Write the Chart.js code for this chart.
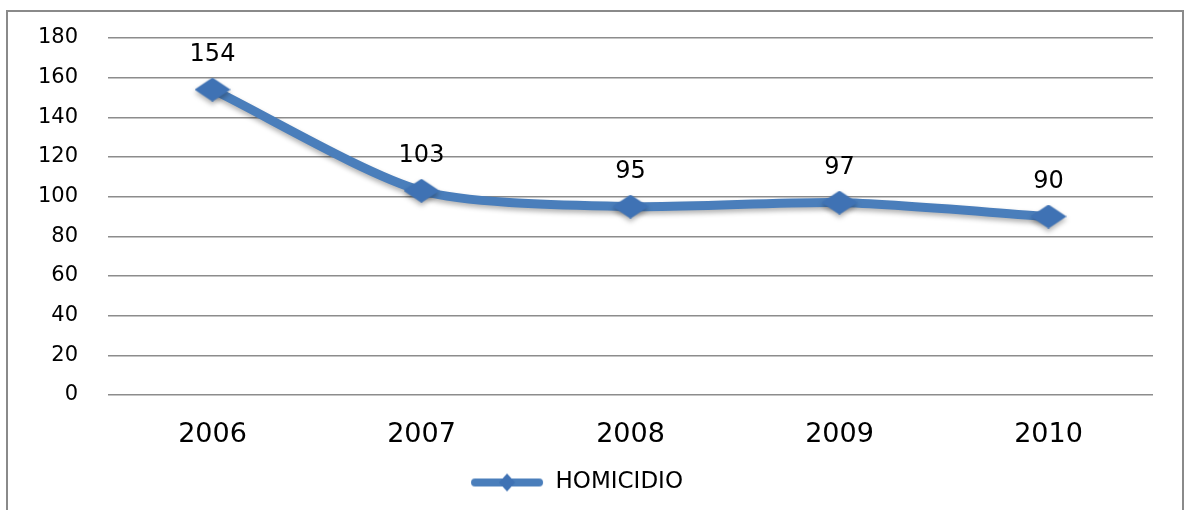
<!DOCTYPE html>
<html lang="es">
<head>
<meta charset="UTF-8">
<title>Homicidio</title>
<script src="https://cdn.jsdelivr.net/npm/chart.js"></script>
<style>
    html, body { margin: 0; padding: 0; background: #fff; }
    .wrap { position: relative; width: 1187px; height: 510px; overflow: hidden; }
    .frame { position: absolute; left: 6px; top: 10px; width: 1178px; height: 560px; border: 2px solid #8a8a8a; box-sizing: border-box; }
    canvas { position: absolute; left: 0; top: 0; }
</style>
</head>
<body>
<div class="wrap">
    <div class="frame"></div>
    <canvas id="homChart" width="1187" height="510"></canvas>
</div>
<script>
    // datos
    const years = ['2006', '2007', '2008', '2009', '2010'];
    const homicidios = [154, 103, 95, 97, 90];
    const yTicks = [0, 20, 40, 60, 80, 100, 120, 140, 160, 180];

    const blue = '#4a7ebb';
    const markerBlue = '#3f72b4';

    // rombo achatado como en Excel
    const diamond = document.createElement('canvas');
    diamond.width = 36; diamond.height = 24;
    (function () {
        const c = diamond.getContext('2d');
        c.fillStyle = markerBlue;
        c.beginPath(); c.moveTo(18, 0); c.lineTo(36, 12); c.lineTo(18, 24); c.lineTo(0, 12); c.closePath(); c.fill();
    })();

    // icono de leyenda: línea gruesa con rombo
    const legendIcon = document.createElement('canvas');
    legendIcon.width = 74; legendIcon.height = 22;
    (function () {
        const c = legendIcon.getContext('2d');
        c.strokeStyle = blue; c.lineWidth = 8; c.lineCap = 'round';
        c.beginPath(); c.moveTo(5, 11); c.lineTo(69, 11); c.stroke();
        c.fillStyle = markerBlue;
        c.beginPath(); c.moveTo(37, 2); c.lineTo(45, 11); c.lineTo(37, 20); c.lineTo(29, 11); c.closePath(); c.fill();
    })();

    const shadowPlugin = {
        id: 'shadow',
        beforeDatasetsDraw(chart) {
            const ctx = chart.ctx;
            ctx.save();
            ctx.shadowColor = 'rgba(0,0,0,0.3)';
            ctx.shadowBlur = 5;
            ctx.shadowOffsetY = 3;
        },
        afterDatasetsDraw(chart) { chart.ctx.restore(); }
    };

    const valueLabels = {
        id: 'valueLabels',
        afterDatasetsDraw(chart) {
            const ctx = chart.ctx;
            const meta = chart.getDatasetMeta(0);
            ctx.save();
            ctx.font = '24px "DejaVu Sans"';
            ctx.fillStyle = '#000';
            ctx.textAlign = 'center';
            ctx.textBaseline = 'middle';
            meta.data.forEach((pt, i) => {
                ctx.fillText(String(homicidios[i]), pt.x, pt.y - 35);
            });
            ctx.restore();
        }
    };

    new Chart(document.getElementById('homChart'), {
        type: 'line',
        data: {
            labels: years,
            datasets: [{
                label: 'HOMICIDIO',
                data: homicidios,
                borderColor: blue,
                backgroundColor: markerBlue,
                borderWidth: 9,
                tension: 0.25,
                pointStyle: diamond,
                pointRadius: 12,
                pointHoverRadius: 12,
                pointBorderWidth: 0,
                fill: false
            }]
        },
        options: {
            responsive: false,
            animation: false,
            devicePixelRatio: 1,
            layout: { padding: { top: 38, right: 34, bottom: 6, left: 0 } },
            plugins: {
                tooltip: { enabled: false },
                legend: {
                    position: 'bottom',
                    labels: {
                        usePointStyle: true,
                        pointStyle: legendIcon,
                        pointStyleWidth: 74,
                        color: '#000',
                        font: { family: 'DejaVu Sans', size: 23 },
                        padding: 10
                    }
                }
            },
            scales: {
                x: {
                    offset: true,
                    grid: { display: false },
                    border: { display: false },
                    ticks: { color: '#000', font: { family: 'DejaVu Sans', size: 27 }, padding: 16 },
                    afterFit(s) { s.height = 66; }
                },
                y: {
                    min: 0, max: 180,
                    afterBuildTicks(s) { s.ticks = yTicks.map(v => ({ value: v })); },
                    grid: { color: '#8c8c8c', lineWidth: 1.5, drawTicks: false },
                    border: { display: false },
                    ticks: { color: '#000', font: { family: 'DejaVu Sans', size: 21 }, padding: 30 },
                    afterFit(s) { s.width = 108; s.paddingTop = 0; s.paddingBottom = 0; }
                }
            }
        },
        plugins: [shadowPlugin, valueLabels]
    });
</script>
</body>
</html>
